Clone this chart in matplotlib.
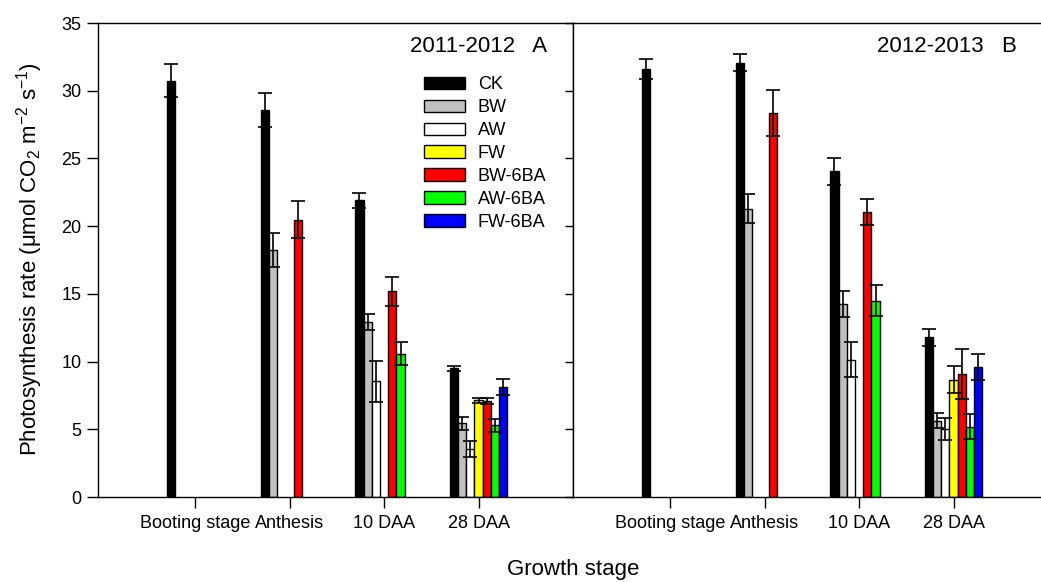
import matplotlib
matplotlib.use("Agg")
import matplotlib.pyplot as plt
from matplotlib.patches import Patch
import numpy as np

plt.rcParams['font.family'] = ['Liberation Sans', 'DejaVu Sans']
plt.rcParams['mathtext.fontset'] = 'custom'
plt.rcParams['mathtext.rm'] = 'Liberation Sans'
plt.rcParams['mathtext.it'] = 'Liberation Sans:italic'

nan = np.nan
stages = ['Booting stage', 'Anthesis', '10 DAA', '28 DAA']
treatments = ['CK', 'BW', 'AW', 'FW', 'BW-6BA', 'AW-6BA', 'FW-6BA']
colors = ['#000000', '#c0c0c0', '#ffffff', '#ffff00', '#ff0000', '#00ff00', '#0000ff']

# 2011-2012 (panel A)
a_ck = [30.75, 28.6, 21.9, 9.5]
a_bw = [nan, 18.25, 12.9, 5.45]
a_aw = [nan, nan, 8.55, 3.55]
a_fw = [nan, nan, nan, 7.15]
a_bw6 = [nan, 20.47, 15.18, 7.08]
a_aw6 = [nan, nan, 10.58, 5.3]
a_fw6 = [nan, nan, nan, 8.12]
a_ck_err = [1.25, 1.25, 0.55, 0.17]
a_bw_err = [nan, 1.25, 0.6, 0.47]
a_aw_err = [nan, nan, 1.5, 0.58]
a_fw_err = [nan, nan, nan, 0.18]
a_bw6_err = [nan, 1.35, 1.05, 0.2]
a_aw6_err = [nan, nan, 0.87, 0.47]
a_fw6_err = [nan, nan, nan, 0.6]

# 2012-2013 (panel B)
b_ck = [31.6, 32.08, 24.05, 11.81]
b_bw = [nan, 21.29, 14.22, 5.62]
b_aw = [nan, nan, 10.14, 5.0]
b_fw = [nan, nan, nan, 8.65]
b_bw6 = [nan, 28.33, 21.04, 9.08]
b_aw6 = [nan, nan, 14.49, 5.2]
b_fw6 = [nan, nan, nan, 9.59]
b_ck_err = [0.73, 0.66, 0.99, 0.63]
b_bw_err = [nan, 1.07, 0.96, 0.55]
b_aw_err = [nan, nan, 1.29, 0.81]
b_fw_err = [nan, nan, nan, 1.0]
b_bw6_err = [nan, 1.69, 0.96, 1.84]
b_aw6_err = [nan, nan, 1.15, 0.9]
b_fw6_err = [nan, nan, nan, 0.96]

panel_a = [a_ck, a_bw, a_aw, a_fw, a_bw6, a_aw6, a_fw6]
panel_a_err = [a_ck_err, a_bw_err, a_aw_err, a_fw_err, a_bw6_err, a_aw6_err, a_fw6_err]
panel_b = [b_ck, b_bw, b_aw, b_fw, b_bw6, b_aw6, b_fw6]
panel_b_err = [b_ck_err, b_bw_err, b_aw_err, b_fw_err, b_bw6_err, b_aw6_err, b_fw6_err]

W, H = 1041, 582
fig = plt.figure(figsize=(W / 100, H / 100), dpi=100)

ax_left, ax_bot, ax_w, ax_h = 98, 497, 475, 474
ax1 = fig.add_axes([ax_left / W, 1 - ax_bot / H, ax_w / W, ax_h / H])
ax2 = fig.add_axes([(ax_left + ax_w) / W, 1 - ax_bot / H, ax_w / W, ax_h / H])

x = np.arange(len(stages))
bw = 0.087


def draw_panel(ax, vals, errs):
    for i, (v, e) in enumerate(zip(vals, errs)):
        pos = x + (i - 3) * bw
        ax.bar(pos, v, width=bw, color=colors[i], edgecolor='black',
               linewidth=1.0, zorder=2)
        ax.errorbar(pos, v, yerr=e, fmt='none', ecolor='black',
                    elinewidth=1.2, capsize=5, capthick=1.2, zorder=3)
    ax.set_xlim(-1.03, 4.0)
    ax.set_ylim(0, 35)
    ax.set_xticks(x)
    ax.set_xticklabels(stages, fontsize=13)
    ax.set_yticks(np.arange(0, 36, 5))
    ax.tick_params(axis='x', direction='out', length=8, width=1, pad=5)
    for s in ax.spines.values():
        s.set_linewidth(1.0)


draw_panel(ax1, panel_a, panel_a_err)
draw_panel(ax2, panel_b, panel_b_err)

ax1.tick_params(axis='y', direction='out', length=8, width=1, labelsize=13, pad=4)
ax2.tick_params(axis='y', direction='out', length=6, width=1, labelleft=False)
ax2.spines['right'].set_visible(False)

ax1.text(0.945, 0.951, '2011-2012   A', transform=ax1.transAxes,
         ha='right', va='center', fontsize=16)
ax2.text(0.934, 0.951, '2012-2013   B', transform=ax2.transAxes,
         ha='right', va='center', fontsize=16)

handles = [Patch(facecolor=c, edgecolor='black', linewidth=1.0) for c in colors]
ax1.legend(handles, treatments, loc='upper left',
           bbox_to_anchor=(0.686, 0.888), frameon=False, fontsize=13,
           handlelength=2.28, handleheight=0.67, handletextpad=0.7,
           labelspacing=0.33, borderpad=0, borderaxespad=0)

fig.text(573 / W, 1 - 570 / H, 'Growth stage', ha='center', va='center', fontsize=16)
fig.text(30 / W, 1 - 259 / H,
         'Photosynthesis rate (\u03bcmol CO$_2$ m$^{-2}$ s$^{-1}$)',
         rotation=90, ha='center', va='center', fontsize=16)

fig.savefig('out.png', dpi=100)
